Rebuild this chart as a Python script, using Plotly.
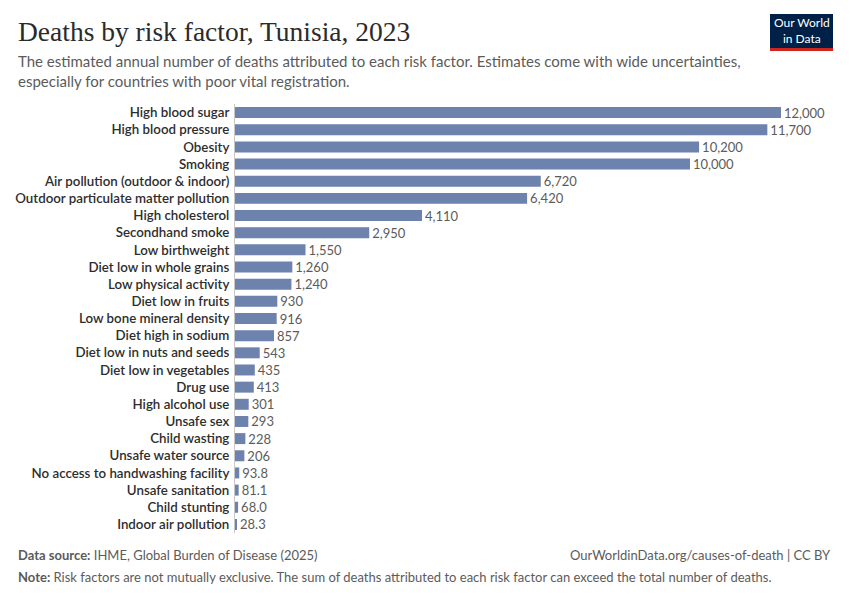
import plotly.graph_objects as go

# risk factors, ordered as in the chart (top to bottom)
factors = [
    "High blood sugar", "High blood pressure", "Obesity", "Smoking",
    "Air pollution (outdoor & indoor)", "Outdoor particulate matter pollution",
    "High cholesterol", "Secondhand smoke", "Low birthweight",
    "Diet low in whole grains", "Low physical activity", "Diet low in fruits",
    "Low bone mineral density", "Diet high in sodium", "Diet low in nuts and seeds",
    "Diet low in vegetables", "Drug use", "High alcohol use", "Unsafe sex",
    "Child wasting", "Unsafe water source", "No access to handwashing facility",
    "Unsafe sanitation", "Child stunting", "Indoor air pollution",
]
deaths = [
    12000, 11700, 10200, 10000, 6720, 6420, 4110, 2950, 1550, 1260, 1240,
    930, 916, 857, 543, 435, 413, 301, 293, 228, 206, 93.8, 81.1, 68.0, 28.3,
]

labels = [f"{v:,.0f}" if v >= 100 else f"{v:.1f}" for v in deaths]

bar_color = "#6d82ad"
grey = "#5b5b5b"

# page has an 8px body margin, so the figure is a bit smaller than the window
W, H = 834, 584
L, R, T, B = 227, 61, 96, 59
pw, ph = W - L - R, H - T - B


def px_x(x):
    return (x - L) / pw


def px_y(y):
    return 1 - (y - T) / ph


fig = go.Figure()
fig.add_trace(go.Bar(
    x=deaths, y=factors, orientation="h",
    marker=dict(color=bar_color, line=dict(width=0)),
    text=labels, textposition="outside", cliponaxis=False, constraintext="none",
    textfont=dict(family="Lato", size=13, color=grey),
    hoverinfo="skip",
))

fig.update_layout(
    width=W, height=H,
    margin=dict(l=L, r=R, t=T, b=B),
    plot_bgcolor="white", paper_bgcolor="white",
    bargap=0.36, showlegend=False,
    font=dict(family="Lato", color="#333"),
)
fig.update_xaxes(range=[0, 12000], visible=False, fixedrange=True)
fig.update_yaxes(
    autorange="reversed", showline=True, linecolor="#c8c8c8", linewidth=1,
    ticks="", showgrid=False, ticklabelstandoff=2, automargin=False,
    tickfont=dict(family="Lato", size=13.3, color="#2d2d2d", weight=600),
)

# title, subtitle
fig.add_annotation(
    text="Deaths by risk factor, Tunisia, 2023", xref="paper", yref="paper",
    x=px_x(8), y=px_y(41), xanchor="left", yanchor="bottom", showarrow=False,
    font=dict(family="Liberation Serif", size=27.5, color="#2b2b2b"),
)
fig.add_annotation(
    text="The estimated annual number of deaths attributed to each risk factor. Estimates come with wide uncertainties,<br>especially for countries with poor vital registration.",
    xref="paper", yref="paper", x=px_x(8), y=px_y(42),
    xanchor="left", yanchor="top", align="left", showarrow=False,
    font=dict(family="Lato", size=15, color=grey),
)

# logo
fig.add_shape(type="rect", xref="paper", yref="paper",
              x0=px_x(762), x1=px_x(825), y0=px_y(40), y1=px_y(6),
              fillcolor="#002147", line=dict(width=0))
fig.add_shape(type="rect", xref="paper", yref="paper",
              x0=px_x(762), x1=px_x(825), y0=px_y(43), y1=px_y(40),
              fillcolor="#ce261e", line=dict(width=0))
fig.add_annotation(
    text="Our World<br>in Data", xref="paper", yref="paper",
    x=px_x(793.5), y=px_y(23), xanchor="center", yanchor="middle",
    showarrow=False, align="center",
    font=dict(family="Lato", size=12, color="white"),
)

# footer
fig.add_annotation(
    text="<b>Data source:</b> IHME, Global Burden of Disease (2025)",
    xref="paper", yref="paper", x=px_x(8), y=px_y(547),
    xanchor="left", yanchor="middle", showarrow=False,
    font=dict(family="Lato", size=13, color=grey),
)
fig.add_annotation(
    text="OurWorldinData.org/causes-of-death | CC BY",
    xref="paper", yref="paper", x=px_x(825), y=px_y(547),
    xanchor="right", yanchor="middle", showarrow=False,
    font=dict(family="Lato", size=13, color=grey),
)
fig.add_annotation(
    text="<b>Note:</b> Risk factors are not mutually exclusive. The sum of deaths attributed to each risk factor can exceed the total number of deaths.",
    xref="paper", yref="paper", x=px_x(8), y=px_y(569),
    xanchor="left", yanchor="middle", showarrow=False,
    font=dict(family="Lato", size=13, color=grey),
)

fig.write_html("out.html")
